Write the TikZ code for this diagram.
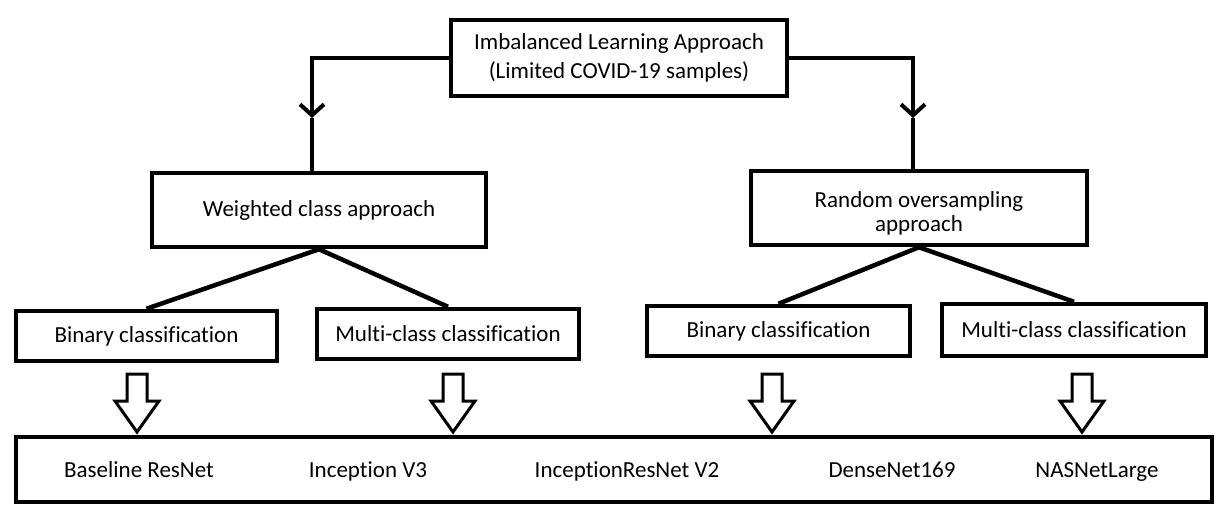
\documentclass[tikz,border=0pt]{standalone}
\usepackage{fontspec}
\setmainfont[Ligatures={NoCommon}]{Carlito}
\usetikzlibrary{arrows.meta,calc}
\begin{document}
\begin{tikzpicture}[x=1pt,y=-1pt,
  box/.style={draw=black,line width=4.5pt,inner sep=0pt,align=center,
    font=\fontsize{23}{29}\selectfont},
  lbl/.style={inner sep=0pt,text height=16pt,text depth=5pt,font=\fontsize{23}{29}\selectfont},
  conn/.style={line width=4.5pt},
  tipconn/.style={line width=4.5pt,-{Straight Barb[length=11pt,width=24pt,line width=4pt]}},
  blockarrow/.style={draw=black,fill=white,line width=3pt,line join=miter}
]
\useasboundingbox (0,0) rectangle (1228,515);
\fill[white] (0,0) rectangle (1228,515);

\node[box,minimum width=336pt,minimum height=76pt] (top) at (619,58)
  {Imbalanced Learning Approach\\(Limited COVID-19 samples)};
\node[box,minimum width=334pt,minimum height=74pt] (wca) at (319,210)
  {Weighted class approach};
\node[box,minimum width=336pt,minimum height=74pt] (roa) at (919,208) {};
\node[align=center,inner sep=0pt,font=\fontsize{23}{24}\selectfont] (roat) at (919,213)
  {Random oversampling\\approach};
\node[box,minimum width=261pt,minimum height=50pt] (binL) at (146.5,336) {Binary classification};
\node[box,minimum width=262pt,minimum height=50pt] (mulL) at (448,334) {Multi-class classification};
\node[box,minimum width=263pt,minimum height=50pt] (binR) at (778.5,331) {Binary classification};
\node[box,minimum width=264pt,minimum height=52pt] (mulR) at (1074,330) {Multi-class classification};
\node[box,minimum width=1196pt,minimum height=65pt] (models) at (614,469.5) {};

\node[lbl] (m1) at (139,472) {Baseline ResNet};
\node[lbl] (m2) at (368,472) {Inception V3};
\node[lbl] (m3) at (627,472) {InceptionResNet V2};
\node[lbl] (m4) at (892,472) {DenseNet169};
\node[lbl] (m5) at (1097,472) {NASNetLarge};

\coordinate (la) at (312,118);
\coordinate (ra) at (913,118);
\draw[tipconn] (top.west) -| (la);
\draw[conn] (la) -- (la |- wca.north);
\draw[tipconn] (top.east) -| (ra);
\draw[conn] (ra) -- (ra |- roa.north);

\draw[conn] (wca.south) -- (binL.north);
\draw[conn] (wca.south) -- (mulL.north);
\draw[conn] (roa.south) -- (binR.north);
\draw[conn] (roa.south) -- (mulR.north);

\foreach \cx in {137,453,772,1082}{
  \draw[blockarrow] (\cx-10,374) -- (\cx+10,374) -- (\cx+10,401) -- (\cx+22,401)
    -- (\cx,432) -- (\cx-22,401) -- (\cx-10,401) -- cycle;
}
\end{tikzpicture}
\end{document}
